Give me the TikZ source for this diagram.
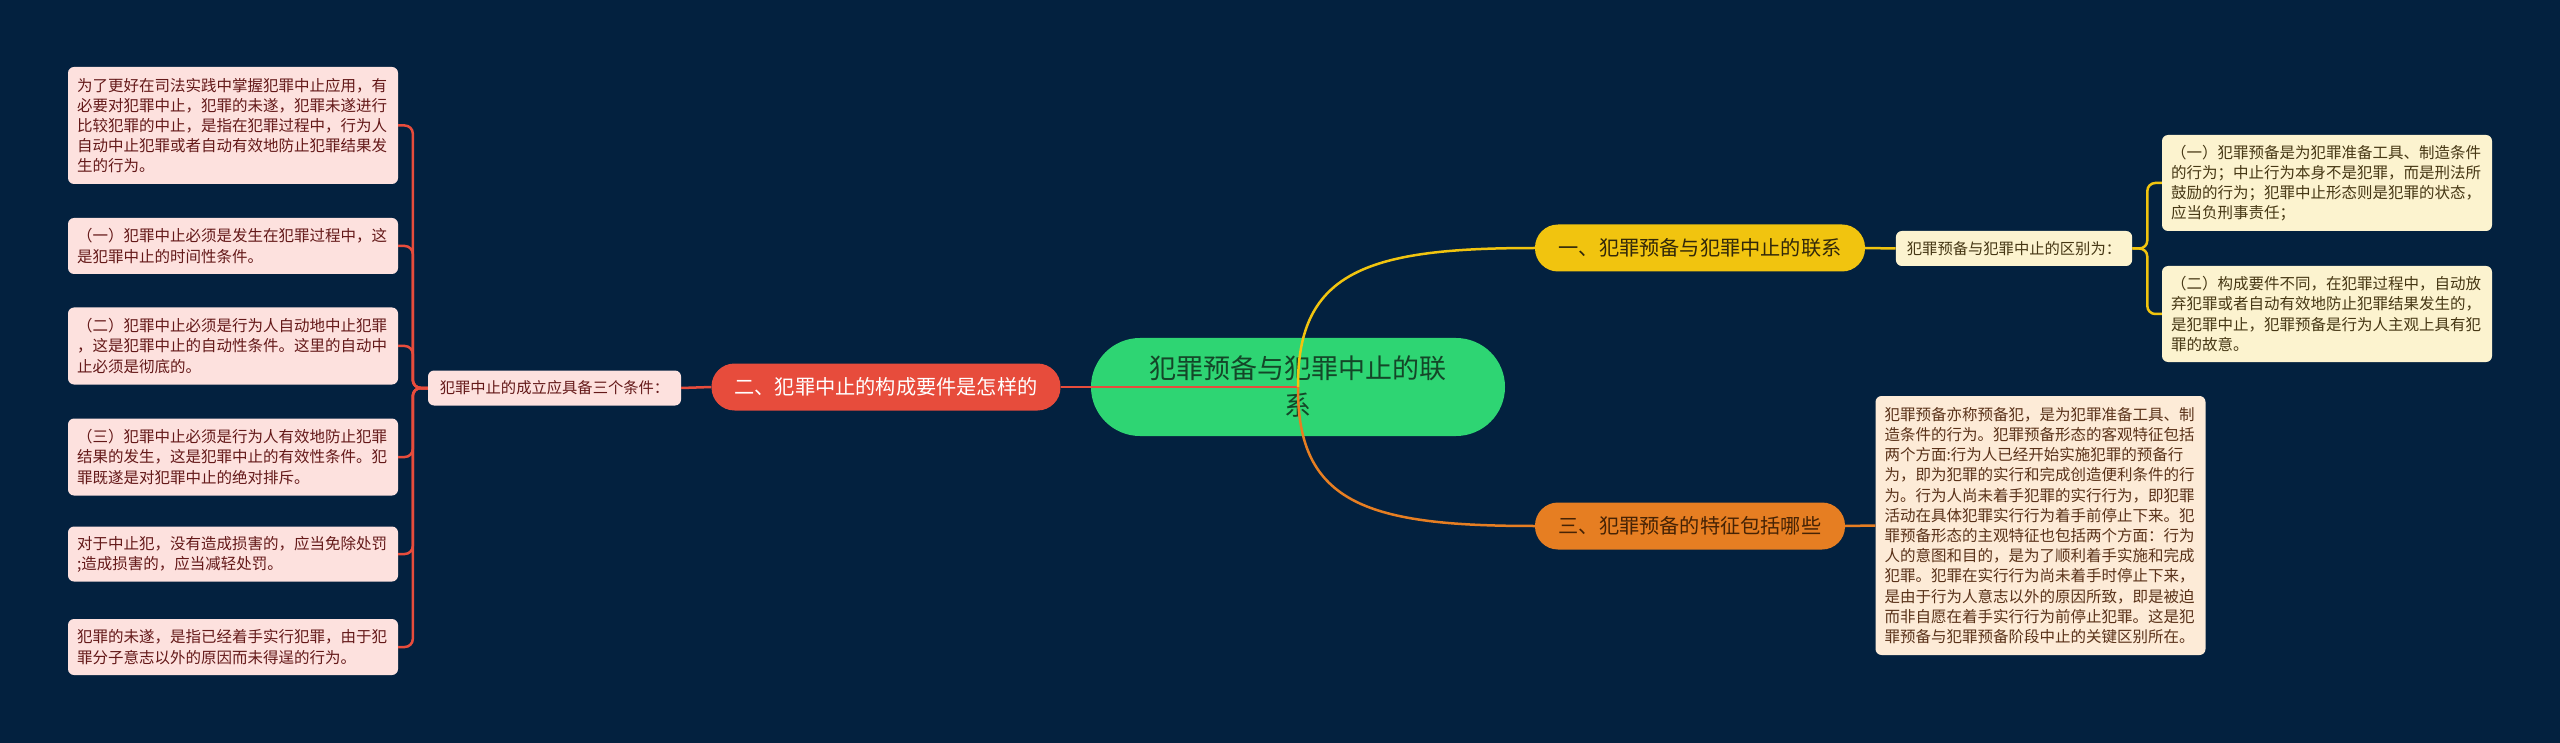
\documentclass[tikz,border=0pt]{standalone}
\usepackage{fontspec}
\setmainfont{Noto Sans CJK SC}
\definecolor{bg}{RGB}{3,33,63}
\definecolor{greenc}{RGB}{46,213,115}
\definecolor{greentext}{RGB}{20,70,40}
\definecolor{redc}{RGB}{231,76,60}
\definecolor{yellowc}{RGB}{241,196,15}
\definecolor{orangec}{RGB}{230,126,34}
\definecolor{pinkfill}{RGB}{253,225,222}
\definecolor{pinktext}{RGB}{100,25,25}
\definecolor{creamfill}{RGB}{252,243,207}
\definecolor{creamtext}{RGB}{70,55,20}
\definecolor{peachfill}{RGB}{253,235,215}
\definecolor{peachtext}{RGB}{90,50,25}
\newcommand\leaffont{\fontsize{15.5}{20.2}\selectfont}
\newcommand\subfont{\fontsize{15.3}{19}\selectfont}
\newcommand\branchfont{\fontsize{20.2}{24}\selectfont}
\newcommand\rootfont{\fontsize{27}{37}\selectfont}
\tikzset{
  leaf/.style={rounded corners=6pt, align=left, text width=312pt, inner xsep=9pt, inner ysep=2pt, font=\leaffont},
  pinkleaf/.style={leaf, fill=pinkfill, text=pinktext},
  creamleaf/.style={leaf, fill=creamfill, text=creamtext},
  peachleaf/.style={leaf, fill=peachfill, text=peachtext},
  branch/.style={rounded corners=23pt, minimum height=47pt, inner xsep=22pt, inner ysep=2pt, font=\branchfont},
  subnode/.style={rounded corners=6pt, minimum height=35pt, inner xsep=11pt, inner ysep=2pt, font=\subfont},
  redline/.style={draw=redc, line width=2.5pt, rounded corners=8pt},
  yellowline/.style={draw=yellowc, line width=2.5pt, rounded corners=8pt},
  orangeline/.style={draw=orangec, line width=2.5pt, rounded corners=8pt},
}
\begin{document}
\begin{tikzpicture}[x=1pt,y=-1pt]
\fill[bg] (0,0) rectangle (2560,743);
\useasboundingbox (0,0) rectangle (2560,743);

% root
\node[fill=greenc, text=greentext, rounded corners=49pt, minimum width=414pt, minimum height=98pt, align=center, font=\rootfont, inner sep=2pt]
  (root) at (1298,387) {犯罪预备与犯罪中止的联\\系};

% branches
\node[branch, fill=yellowc, text={rgb,255:red,50;green,40;blue,10}, minimum width=330pt] (b1) at (1700,248) {一、犯罪预备与犯罪中止的联系};
\node[branch, fill=redc, text=white, minimum width=349pt] (b2) at (886,387) {二、犯罪中止的构成要件是怎样的};
\node[branch, fill=orangec, text={rgb,255:red,70;green,35;blue,5}, minimum width=310pt] (b3) at (1690,526) {三、犯罪预备的特征包括哪些};

% sub nodes
\node[subnode, fill=pinkfill, text=pinktext, minimum width=253pt] (s2) at (554.5,388) {犯罪中止的成立应具备三个条件：};
\node[subnode, fill=creamfill, text=creamtext, minimum width=236pt] (s1) at (2014,248.5) {犯罪预备与犯罪中止的区别为：};

% left leaves
\node[pinkleaf, minimum height=117pt] (l1) at (233,125.5) {为了更好在司法实践中掌握犯罪中止应用，有\\必要对犯罪中止，犯罪的未遂，犯罪未遂进行\\比较犯罪的中止，是指在犯罪过程中，行为人\\自动中止犯罪或者自动有效地防止犯罪结果发\\生的行为。};
\node[pinkleaf, minimum height=56pt] (l2) at (233,246) {（一）犯罪中止必须是发生在犯罪过程中，这\\是犯罪中止的时间性条件。};
\node[pinkleaf, minimum height=77pt] (l3) at (233,346) {（二）犯罪中止必须是行为人自动地中止犯罪\\，这是犯罪中止的自动性条件。这里的自动中\\止必须是彻底的。};
\node[pinkleaf, minimum height=77pt] (l4) at (233,457) {（三）犯罪中止必须是行为人有效地防止犯罪\\结果的发生，这是犯罪中止的有效性条件。犯\\罪既遂是对犯罪中止的绝对排斥。};
\node[pinkleaf, minimum height=55pt] (l5) at (233,554) {对于中止犯，没有造成损害的，应当免除处罚\\;造成损害的，应当减轻处罚。};
\node[pinkleaf, minimum height=56pt] (l6) at (233,647) {犯罪的未遂，是指已经着手实行犯罪，由于犯\\罪分子意志以外的原因而未得逞的行为。};

% right leaves
\node[creamleaf, minimum height=96pt] (y1) at (2327,183) {（一）犯罪预备是为犯罪准备工具、制造条件\\的行为；中止行为本身不是犯罪，而是刑法所\\鼓励的行为；犯罪中止形态则是犯罪的状态，\\应当负刑事责任；};
\node[creamleaf, minimum height=96pt] (y2) at (2327,314) {（二）构成要件不同，在犯罪过程中，自动放\\弃犯罪或者自动有效地防止犯罪结果发生的，\\是犯罪中止，犯罪预备是行为人主观上具有犯\\罪的故意。};
\node[peachleaf, minimum height=259pt] (o1) at (2040.5,525.5) {犯罪预备亦称预备犯，是为犯罪准备工具、制\\造条件的行为。犯罪预备形态的客观特征包括\\两个方面:行为人已经开始实施犯罪的预备行\\为，即为犯罪的实行和完成创造便利条件的行\\为。行为人尚未着手犯罪的实行行为，即犯罪\\活动在具体犯罪实行行为着手前停止下来。犯\\罪预备形态的主观特征也包括两个方面：行为\\人的意图和目的，是为了顺利着手实施和完成\\犯罪。犯罪在实行行为尚未着手时停止下来，\\是由于行为人意志以外的原因所致，即是被迫\\而非自愿在着手实行行为前停止犯罪。这是犯\\罪预备与犯罪预备阶段中止的关键区别所在。};

% connectors
\draw[redline] (root.center) -- (b2.east);
\draw[yellowline] (root.center) .. controls (1297,270) and (1370,248) .. (b1.west);
\draw[orangeline] (root.center) .. controls (1297,505) and (1370,526) .. (b3.west);
\draw[redline] (b2.west) -- (s2.east);
\draw[yellowline] (b1.east) -- (s1.west);
\draw[orangeline] (b3.east) -- (o1.west);
\foreach \n in {l1,l2,l3,l4,l5,l6}
  \draw[redline] (s2.west) -- ++(-15,0) |- (\n.east);
\foreach \n in {y1,y2}
  \draw[yellowline] (s1.east) -- ++(15,0) |- (\n.west);
\end{tikzpicture}
\end{document}
